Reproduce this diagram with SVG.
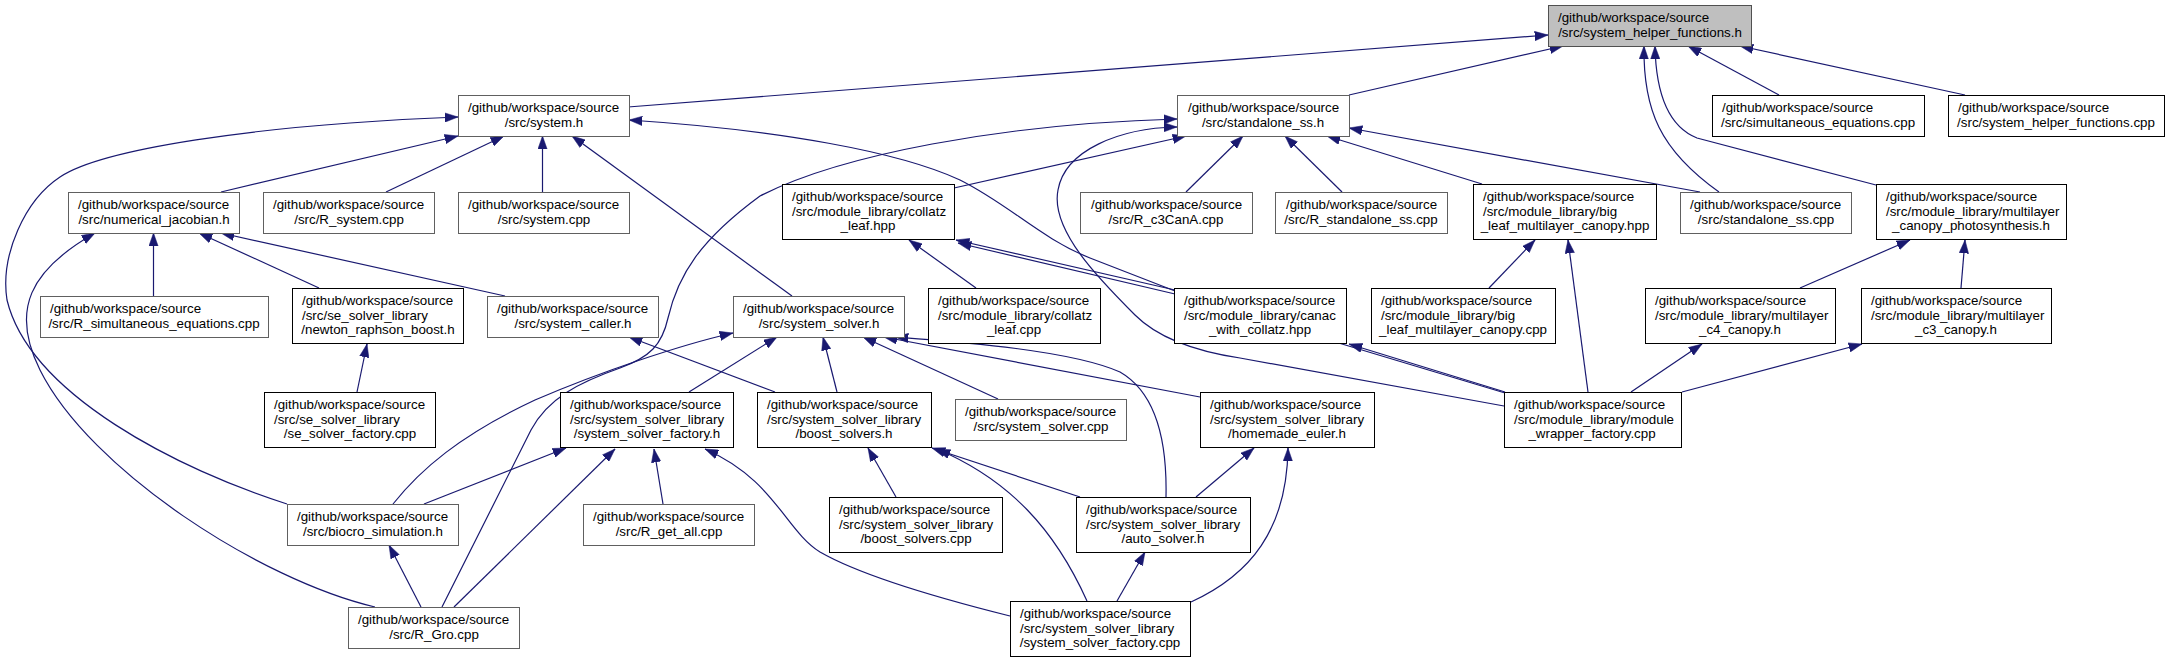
<svg xmlns="http://www.w3.org/2000/svg" width="2170" height="661" viewBox="0 0 2170 661">
<style>
.e{fill:none;stroke:#191970;stroke-width:1.2;marker-end:url(#ah)}
.node rect{fill:#fff;stroke:#000;stroke-width:1}
.node.g rect{stroke:#606060}
.node.root rect{fill:#bfbfbf;stroke:#505050}
text{font-family:"Liberation Sans",Arial,Helvetica,sans-serif;font-size:13.33px;fill:#000}
.m{text-anchor:middle}
</style>
<defs>
<marker id="ah" markerWidth="14" markerHeight="10" refX="13.3" refY="5" orient="auto" markerUnits="userSpaceOnUse"><path d="M0,0.3 L13.3,5 L0,9.7z" fill="#191970" stroke="#191970" stroke-width="0.5"/></marker>
</defs>
<rect width="2170" height="661" fill="#fff"/>
<g id="edges">
<path class="e" d="M628,107 L1548,35"/>
<path class="e" d="M1349,95 L1563,46"/>
<path class="e" d="M1719,192 C1660,150 1643,110 1644,46"/>
<path class="e" d="M1876,185 L1697,138 C1672,128 1656,100 1655,46"/>
<path class="e" d="M1779,95 L1688,46"/>
<path class="e" d="M1965,95 L1740,46"/>
<path class="e" d="M221,192 L458,136"/>
<path class="e" d="M386,192 L504,136"/>
<path class="e" d="M542.5,192 L542.5,136"/>
<path class="e" d="M792,296 L572,136"/>
<path class="e" d="M287,504 C180,470 30,395 7,300 C0,255 25,200 60,177 C100,150 250,125 458,117"/>
<path class="e" d="M375,607 C260,580 90,470 40,370 C10,310 30,270 95,233"/>
<path class="e" d="M954,188 L1186,136"/>
<path class="e" d="M442,607 L531,430 C548,398 580,382 620,368 C650,357 662,345 668,318 C678,275 700,240 760,196 C840,155 1000,124 1177,119"/>
<path class="e" d="M1186,192 L1243,136"/>
<path class="e" d="M1342,192 L1285,136"/>
<path class="e" d="M1482,184 L1327,136"/>
<path class="e" d="M1700,192 L1349,128"/>
<path class="e" d="M153.5,296 L153.5,233"/>
<path class="e" d="M319,288 L199,233"/>
<path class="e" d="M505,296 L221,233"/>
<path class="e" d="M976,288 L909,240"/>
<path class="e" d="M1175,290 L956,240"/>
<path class="e" d="M1505,393 L1352,347 L1175,294 L958,243"/>
<path class="e" d="M1175,291 L1090,258 C1040,238 1010,205 960,180 C900,152 780,130 629,120"/>
<path class="e" d="M1504,406 L1240,358 C1200,352 1160,340 1135,315 C1100,280 1050,230 1058,190 C1065,150 1120,128 1177,127"/>
<path class="e" d="M1505,392 L1349,344"/>
<path class="e" d="M1489,288 L1535,240"/>
<path class="e" d="M1588,392 L1568,240"/>
<path class="e" d="M1800,288 L1910,240"/>
<path class="e" d="M1961,288 L1965,240"/>
<path class="e" d="M1631,392 L1702,344"/>
<path class="e" d="M1682,392 L1862,344"/>
<path class="e" d="M393,504 C420,470 460,435 535,400 C600,372 680,345 733,333"/>
<path class="e" d="M689,392 L777,337"/>
<path class="e" d="M837,392 L823,337"/>
<path class="e" d="M998,399 L863,337"/>
<path class="e" d="M1200,397 L884,337"/>
<path class="e" d="M1166,497 C1167,450 1160,395 1120,372 C1070,350 960,342 895,337"/>
<path class="e" d="M424,504 L566,448"/>
<path class="e" d="M454,607 L615,449"/>
<path class="e" d="M663,504 L654,449"/>
<path class="e" d="M1010,616 C930,596 860,575 820,552 C785,530 775,480 705,449"/>
<path class="e" d="M357,392 L367,344"/>
<path class="e" d="M775,392 L629,337"/>
<path class="e" d="M421,607 L389,545"/>
<path class="e" d="M896,497 L868,448"/>
<path class="e" d="M1080,497 L932,448"/>
<path class="e" d="M1087,601 C1055,530 1010,480 937,449"/>
<path class="e" d="M1196,497 L1254,448"/>
<path class="e" d="M1191,602 C1250,575 1287,530 1288,448"/>
<path class="e" d="M1117,601 L1145,552"/>
</g>
<g id="n_shf_h" class="node root"><rect x="1548.5" y="5.5" width="203" height="41"/><text x="1558" y="21.5">/github/workspace/source</text><text x="1650" y="36.5" class="m">/src/system_helper_functions.h</text></g>
<g id="n_system_h" class="node g"><rect x="458.5" y="95.5" width="171" height="41"/><text x="468" y="111.5">/github/workspace/source</text><text x="544" y="126.5" class="m">/src/system.h</text></g>
<g id="n_standalone_ss_h" class="node g"><rect x="1177.5" y="95.5" width="172" height="41"/><text x="1188" y="111.5">/github/workspace/source</text><text x="1263" y="126.5" class="m">/src/standalone_ss.h</text></g>
<g id="n_simultaneous_equations_cpp" class="node"><rect x="1712.5" y="95.5" width="212" height="41"/><text x="1722" y="111.5">/github/workspace/source</text><text x="1818" y="126.5" class="m">/src/simultaneous_equations.cpp</text></g>
<g id="n_shf_cpp" class="node"><rect x="1948.5" y="95.5" width="216" height="41"/><text x="1958" y="111.5">/github/workspace/source</text><text x="2056" y="126.5" class="m">/src/system_helper_functions.cpp</text></g>
<g id="n_numerical_jacobian_h" class="node g"><rect x="68.5" y="192.5" width="171" height="41"/><text x="78" y="208.5">/github/workspace/source</text><text x="154" y="223.5" class="m">/src/numerical_jacobian.h</text></g>
<g id="n_R_system_cpp" class="node g"><rect x="263.5" y="192.5" width="171" height="41"/><text x="273" y="208.5">/github/workspace/source</text><text x="349" y="223.5" class="m">/src/R_system.cpp</text></g>
<g id="n_system_cpp" class="node g"><rect x="458.5" y="192.5" width="171" height="41"/><text x="468" y="208.5">/github/workspace/source</text><text x="544" y="223.5" class="m">/src/system.cpp</text></g>
<g id="n_collatz_leaf_hpp" class="node"><rect x="782.5" y="184.5" width="172" height="55"/><text x="792" y="201">/github/workspace/source</text><text x="792" y="215.5">/src/module_library/collatz</text><text x="868" y="230" class="m">_leaf.hpp</text></g>
<g id="n_R_c3CanA_cpp" class="node g"><rect x="1080.5" y="192.5" width="172" height="41"/><text x="1091" y="208.5">/github/workspace/source</text><text x="1166" y="223.5" class="m">/src/R_c3CanA.cpp</text></g>
<g id="n_R_standalone_ss_cpp" class="node g"><rect x="1275.5" y="192.5" width="172" height="41"/><text x="1286" y="208.5">/github/workspace/source</text><text x="1361" y="223.5" class="m">/src/R_standalone_ss.cpp</text></g>
<g id="n_big_leaf_hpp" class="node"><rect x="1473.5" y="184.5" width="183" height="55"/><text x="1483" y="201">/github/workspace/source</text><text x="1483" y="215.5">/src/module_library/big</text><text x="1565" y="230" class="m">_leaf_multilayer_canopy.hpp</text></g>
<g id="n_standalone_ss_cpp" class="node g"><rect x="1680.5" y="192.5" width="171" height="41"/><text x="1690" y="208.5">/github/workspace/source</text><text x="1766" y="223.5" class="m">/src/standalone_ss.cpp</text></g>
<g id="n_mcp_h" class="node"><rect x="1876.5" y="184.5" width="190" height="55"/><text x="1886" y="201">/github/workspace/source</text><text x="1886" y="215.5">/src/module_library/multilayer</text><text x="1971" y="230" class="m">_canopy_photosynthesis.h</text></g>
<g id="n_R_simultaneous_equations_cpp" class="node g"><rect x="40.5" y="296.5" width="228" height="41"/><text x="50" y="312.5">/github/workspace/source</text><text x="154" y="327.5" class="m">/src/R_simultaneous_equations.cpp</text></g>
<g id="n_newton_raphson_boost_h" class="node"><rect x="292.5" y="288.5" width="171" height="55"/><text x="302" y="305">/github/workspace/source</text><text x="302" y="319.5">/src/se_solver_library</text><text x="378" y="334" class="m">/newton_raphson_boost.h</text></g>
<g id="n_system_caller_h" class="node g"><rect x="487.5" y="296.5" width="171" height="41"/><text x="497" y="312.5">/github/workspace/source</text><text x="573" y="327.5" class="m">/src/system_caller.h</text></g>
<g id="n_system_solver_h" class="node g"><rect x="733.5" y="296.5" width="171" height="41"/><text x="743" y="312.5">/github/workspace/source</text><text x="819" y="327.5" class="m">/src/system_solver.h</text></g>
<g id="n_collatz_leaf_cpp" class="node"><rect x="928.5" y="288.5" width="172" height="55"/><text x="938" y="305">/github/workspace/source</text><text x="938" y="319.5">/src/module_library/collatz</text><text x="1014" y="334" class="m">_leaf.cpp</text></g>
<g id="n_canac_with_collatz_hpp" class="node"><rect x="1174.5" y="288.5" width="172" height="55"/><text x="1184" y="305">/github/workspace/source</text><text x="1184" y="319.5">/src/module_library/canac</text><text x="1260" y="334" class="m">_with_collatz.hpp</text></g>
<g id="n_big_leaf_cpp" class="node"><rect x="1371.5" y="288.5" width="184" height="55"/><text x="1381" y="305">/github/workspace/source</text><text x="1381" y="319.5">/src/module_library/big</text><text x="1463" y="334" class="m">_leaf_multilayer_canopy.cpp</text></g>
<g id="n_c4_canopy_h" class="node"><rect x="1645.5" y="288.5" width="190" height="55"/><text x="1655" y="305">/github/workspace/source</text><text x="1655" y="319.5">/src/module_library/multilayer</text><text x="1740" y="334" class="m">_c4_canopy.h</text></g>
<g id="n_c3_canopy_h" class="node"><rect x="1861.5" y="288.5" width="190" height="55"/><text x="1871" y="305">/github/workspace/source</text><text x="1871" y="319.5">/src/module_library/multilayer</text><text x="1956" y="334" class="m">_c3_canopy.h</text></g>
<g id="n_se_solver_factory_cpp" class="node"><rect x="264.5" y="392.5" width="171" height="55"/><text x="274" y="409">/github/workspace/source</text><text x="274" y="423.5">/src/se_solver_library</text><text x="350" y="438" class="m">/se_solver_factory.cpp</text></g>
<g id="n_system_solver_factory_h" class="node"><rect x="560.5" y="392.5" width="173" height="55"/><text x="570" y="409">/github/workspace/source</text><text x="570" y="423.5">/src/system_solver_library</text><text x="647" y="438" class="m">/system_solver_factory.h</text></g>
<g id="n_boost_solvers_h" class="node"><rect x="757.5" y="392.5" width="174" height="55"/><text x="767" y="409">/github/workspace/source</text><text x="767" y="423.5">/src/system_solver_library</text><text x="844" y="438" class="m">/boost_solvers.h</text></g>
<g id="n_system_solver_cpp" class="node g"><rect x="955.5" y="399.5" width="171" height="41"/><text x="965" y="415.5">/github/workspace/source</text><text x="1041" y="430.5" class="m">/src/system_solver.cpp</text></g>
<g id="n_homemade_euler_h" class="node"><rect x="1200.5" y="392.5" width="174" height="55"/><text x="1210" y="409">/github/workspace/source</text><text x="1210" y="423.5">/src/system_solver_library</text><text x="1287" y="438" class="m">/homemade_euler.h</text></g>
<g id="n_module_wrapper_factory_cpp" class="node"><rect x="1504.5" y="392.5" width="177" height="55"/><text x="1514" y="409">/github/workspace/source</text><text x="1514" y="423.5">/src/module_library/module</text><text x="1592" y="438" class="m">_wrapper_factory.cpp</text></g>
<g id="n_biocro_simulation_h" class="node g"><rect x="287.5" y="504.5" width="171" height="41"/><text x="297" y="520.5">/github/workspace/source</text><text x="373" y="535.5" class="m">/src/biocro_simulation.h</text></g>
<g id="n_R_get_all_cpp" class="node g"><rect x="583.5" y="504.5" width="171" height="41"/><text x="593" y="520.5">/github/workspace/source</text><text x="669" y="535.5" class="m">/src/R_get_all.cpp</text></g>
<g id="n_boost_solvers_cpp" class="node"><rect x="829.5" y="497.5" width="173" height="55"/><text x="839" y="514">/github/workspace/source</text><text x="839" y="528.5">/src/system_solver_library</text><text x="916" y="543" class="m">/boost_solvers.cpp</text></g>
<g id="n_auto_solver_h" class="node"><rect x="1076.5" y="497.5" width="174" height="55"/><text x="1086" y="514">/github/workspace/source</text><text x="1086" y="528.5">/src/system_solver_library</text><text x="1163" y="543" class="m">/auto_solver.h</text></g>
<g id="n_R_Gro_cpp" class="node g"><rect x="348.5" y="607.5" width="171" height="41"/><text x="358" y="623.5">/github/workspace/source</text><text x="434" y="638.5" class="m">/src/R_Gro.cpp</text></g>
<g id="n_system_solver_factory_cpp" class="node"><rect x="1010.5" y="601.5" width="180" height="55"/><text x="1020" y="618">/github/workspace/source</text><text x="1020" y="632.5">/src/system_solver_library</text><text x="1100" y="647" class="m">/system_solver_factory.cpp</text></g>
</svg>
